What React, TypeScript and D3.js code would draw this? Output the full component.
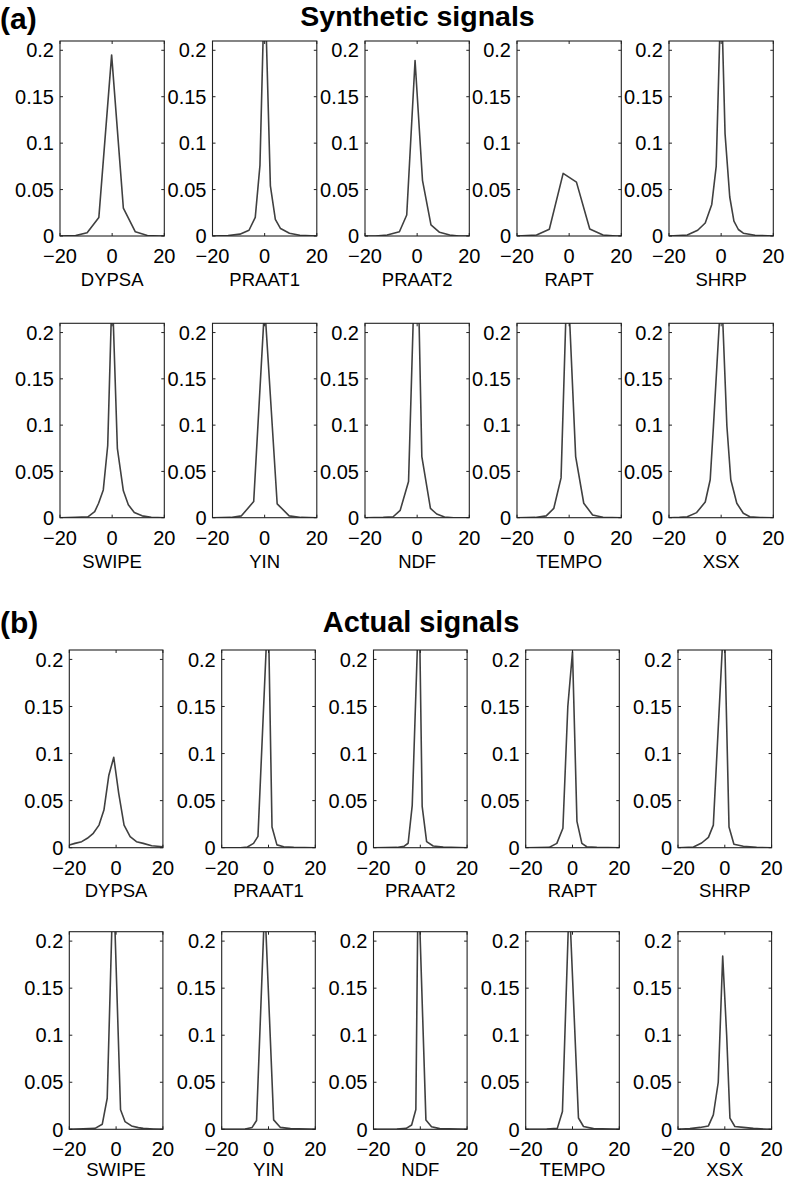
import React from "react";
import * as d3 from "d3";

type Pt = [number, number];

const METHODS = ["DYPSA", "PRAAT1", "PRAAT2", "RAPT", "SHRP", "SWIPE", "YIN", "NDF", "TEMPO", "XSX"];
const Y_TICKS = [0, 0.05, 0.1, 0.15, 0.2];
const X_TICKS = [-20, 0, 20];
const X_DOMAIN: [number, number] = [-20, 20];
const Y_DOMAIN: [number, number] = [0, 0.21];

// Synthetic signals
const synDYPSA: Pt[] = [[-20, 0], [-14, 0.0005], [-9.6, 0.0035], [-5.1, 0.02], [-0.2, 0.195], [4.3, 0.03], [8.9, 0.0045], [13.5, 0.0006], [18, 0], [20, 0]];
const synPRAAT1: Pt[] = [[-20, 0], [-14, 0.0005], [-9.5, 0.002], [-6, 0.0062], [-3.6, 0.02], [-1.8, 0.076], [0, 0.28], [2.2, 0.054], [4.1, 0.018], [6.1, 0.008], [9.5, 0.003], [13.5, 0.0008], [20, 0]];
const synPRAAT2: Pt[] = [[-20, 0], [-16, 0], [-11.5, 0.001], [-6.8, 0.0046], [-4, 0.0226], [-0.8, 0.189], [2.05, 0.06], [5.3, 0.012], [8.6, 0.004], [12.5, 0.001], [16, 0], [20, 0]];
const synRAPT: Pt[] = [[-20, 0], [-12.5, 0.001], [-7.6, 0.0072], [-2.3, 0.0674], [2.8, 0.058], [7.9, 0.0075], [13, 0.001], [18, 0], [20, 0]];
const synSHRP: Pt[] = [[-20, 0], [-13, 0.001], [-9, 0.0062], [-6.1, 0.014], [-3.6, 0.034], [-1.9, 0.075], [0, 0.27], [1.5, 0.11], [3.3, 0.042], [4.9, 0.016], [6.6, 0.007], [8.5, 0.003], [13, 0.0008], [20, 0]];
const synSWIPE: Pt[] = [[-20, 0], [-14, 0.0005], [-9.3, 0.001], [-6.7, 0.0065], [-5.2, 0.0156], [-3.4, 0.03], [-1.7, 0.078], [0, 0.25], [2, 0.075], [4.3, 0.029], [6.2, 0.014], [8.5, 0.0055], [11.5, 0.002], [15, 0.0005], [20, 0]];
const synYIN: Pt[] = [[-20, 0], [-13, 0.0003], [-8.9, 0.002], [-4.2, 0.0174], [0, 0.23], [4.8, 0.015], [9.4, 0.002], [14, 0.0003], [20, 0]];
const synNDF: Pt[] = [[-20, 0], [-13, 0.0003], [-9.2, 0.001], [-6.5, 0.008], [-3.3, 0.039], [-0.2, 0.34], [1.8, 0.066], [5.1, 0.01], [7.5, 0.004], [10.5, 0.0008], [14, 0], [20, 0]];
const synTEMPO: Pt[] = [[-20, 0], [-13, 0.0003], [-8.8, 0.002], [-5.9, 0.01], [-3.1, 0.043], [-0.7, 0.27], [2.5, 0.066], [5.6, 0.0156], [9, 0.003], [13, 0.0005], [20, 0]];
const synXSX: Pt[] = [[-20, 0], [-16, 0.0003], [-13, 0.001], [-9.4, 0.0055], [-6.1, 0.017], [-4.2, 0.041], [-2.95, 0.099], [0.1, 0.25], [2.2, 0.099], [3.7, 0.041], [6, 0.0156], [8.5, 0.0048], [11, 0.001], [15, 0.0002], [20, 0]];

// Actual signals
const actDYPSA: Pt[] = [[-20, 0.0028], [-17.6, 0.0046], [-14.7, 0.0064], [-12.3, 0.01], [-9.75, 0.0153], [-7.3, 0.024], [-5.2, 0.04], [-3.1, 0.077], [-1, 0.096], [1.1, 0.058], [3.4, 0.024], [6, 0.0117], [8.7, 0.0064], [11.6, 0.0046], [15.2, 0.002], [20, 0.001]];
const actPRAAT1: Pt[] = [[-20, 0], [-12, 0], [-9, 0.0008], [-6.4, 0.0046], [-4.5, 0.012], [-0.15, 0.26], [1.5, 0.022], [3.6, 0.003], [6.5, 0.001], [10.8, 0.0004], [20, 0]];
const actPRAAT2: Pt[] = [[-20, 0], [-10, 0.0003], [-7, 0.0015], [-5.2, 0.0047], [-3.45, 0.045], [-0.5, 0.27], [0.8, 0.044], [2.7, 0.0064], [5.5, 0.0018], [9.8, 0.0006], [20, 0]];
const actRAPT: Pt[] = [[-20, 0], [-10, 0.0003], [-6.7, 0.0046], [-4.1, 0.0206], [-2, 0.15], [0, 0.208], [1.9, 0.028], [4, 0.0046], [6.1, 0.001], [10.4, 0.0003], [20, 0]];
const actSHRP: Pt[] = [[-20, 0], [-13.4, 0.0007], [-9.9, 0.005], [-7, 0.011], [-4.9, 0.024], [-0.3, 0.25], [1.8, 0.022], [3.9, 0.0036], [7.9, 0.0015], [13.6, 0.0003], [20, 0]];
const actSWIPE: Pt[] = [[-20, 0], [-14, 0.0005], [-9, 0.001], [-5.9, 0.0054], [-3.8, 0.033], [-1.2, 0.27], [1.9, 0.0207], [3.8, 0.0082], [6.6, 0.0036], [9.5, 0.0018], [11.6, 0.001], [15.9, 0.0004], [20, 0]];
const actYIN: Pt[] = [[-20, 0], [-10, 0.0003], [-7, 0.002], [-5.1, 0.0093], [-1.6, 0.241], [2.2, 0.01], [5.1, 0.002], [9.4, 0.0007], [20, 0]];
const actNDF: Pt[] = [[-20, 0], [-10, 0.0003], [-6, 0.001], [-3.7, 0.0046], [-1.9, 0.021], [-0.9, 0.27], [2.4, 0.01], [4.8, 0.0028], [8.3, 0.0007], [20, 0]];
const actTEMPO: Pt[] = [[-20, 0], [-11, 0.0003], [-6.5, 0.001], [-4.3, 0.019], [-1.4, 0.245], [2.55, 0.012], [4.7, 0.003], [9, 0.0007], [20, 0]];
const actXSX: Pt[] = [[-20, 0], [-14.9, 0.0007], [-10.6, 0.002], [-7, 0.0036], [-4.9, 0.0154], [-2.8, 0.05], [-0.9, 0.184], [0.8, 0.1], [2.2, 0.0118], [4.3, 0.003], [7.9, 0.002], [12.2, 0.001], [18, 0], [20, 0]];

const SYN_SERIES = [synDYPSA, synPRAAT1, synPRAAT2, synRAPT, synSHRP, synSWIPE, synYIN, synNDF, synTEMPO, synXSX];
const ACT_SERIES = [actDYPSA, actPRAAT1, actPRAAT2, actRAPT, actSHRP, actSWIPE, actYIN, actNDF, actTEMPO, actXSX];

const FONT = "'Liberation Sans', Arial, Helvetica, sans-serif";

const fmtX = (v: number) => (v < 0 ? "\u2212" + Math.abs(v) : String(v));
const fmtY = (v: number) => String(+v.toFixed(2));

interface PanelProps {
  id: string;
  left: number;
  top: number;
  width: number;
  height: number;
  data: Pt[];
  label: string;
  labelOffset: number;
}

function Panel({ id, left, top, width, height, data, label, labelOffset }: PanelProps) {
  const x = d3.scaleLinear().domain(X_DOMAIN).range([left, left + width]);
  const y = d3.scaleLinear().domain(Y_DOMAIN).range([top + height, top]);
  const line = d3.line<Pt>().x((d) => x(d[0])).y((d) => y(d[1]));
  const bottom = top + height;
  const right = left + width;
  const tl = 3;
  return (
    <g>
      <defs>
        <clipPath id={id}>
          <rect x={left} y={top} width={width} height={height} />
        </clipPath>
      </defs>
      <path d={line(data) || ""} fill="none" stroke="#404040" strokeWidth={1.6} strokeLinejoin="round" clipPath={`url(#${id})`} />
      <rect x={left} y={top} width={width} height={height} fill="none" stroke="#222" strokeWidth={1.1} />
      {Y_TICKS.map((t) => (
        <g key={"y" + t}>
          <line x1={left} x2={left + tl} y1={y(t)} y2={y(t)} stroke="#222" />
          <line x1={right} x2={right - tl} y1={y(t)} y2={y(t)} stroke="#222" />
          <text x={left - 6} y={y(t)} dy="0.36em" textAnchor="end" fontSize={20} fontFamily={FONT} fill="#000">
            {fmtY(t)}
          </text>
        </g>
      ))}
      {X_TICKS.map((t) => (
        <g key={"x" + t}>
          <line x1={x(t)} x2={x(t)} y1={bottom} y2={bottom - tl} stroke="#222" />
          <line x1={x(t)} x2={x(t)} y1={top} y2={top + tl} stroke="#222" />
          <text x={x(t)} y={bottom + 27} textAnchor="middle" fontSize={20} fontFamily={FONT} fill="#000">
            {fmtX(t)}
          </text>
        </g>
      ))}
      <text x={(left + right) / 2} y={bottom + labelOffset} textAnchor="middle" fontSize={18.5} fontFamily={FONT} fill="#000">
        {label}
      </text>
    </g>
  );
}

const SEC_A_LEFTS = [60, 212.5, 365, 517, 669];
const SEC_B_LEFTS = [69.3, 221.7, 373.5, 525.7, 678];

export default function App() {
  const panels: JSX.Element[] = [];
  const rowsA = [{ top: 41, h: 195 }, { top: 323.3, h: 194.4 }];
  const rowsB = [{ top: 650, h: 197.7 }, { top: 931.7, h: 197.6 }];
  METHODS.forEach((m, i) => {
    const r = Math.floor(i / 5);
    const c = i % 5;
    panels.push(
      <Panel key={"a" + i} id={"ca" + i} left={SEC_A_LEFTS[c]} top={rowsA[r].top} width={104.3} height={rowsA[r].h} data={SYN_SERIES[i]} label={m} labelOffset={50} />
    );
    panels.push(
      <Panel key={"b" + i} id={"cb" + i} left={SEC_B_LEFTS[c]} top={rowsB[r].top} width={93.6} height={rowsB[r].h} data={ACT_SERIES[i]} label={m} labelOffset={r === 1 ? 46.5 : 49} />
    );
  });
  return (
    <svg width={786} height={1181} style={{ position: "absolute", left: 0, top: 0, background: "#fff" }}>
      <rect x={0} y={0} width={786} height={1181} fill="#fff" />
      <text x={0} y={29} fontSize={30} fontWeight="bold" fontFamily={FONT}>(a)</text>
      <text x={417.5} y={25.5} textAnchor="middle" fontSize={28.5} fontWeight="bold" fontFamily={FONT}>Synthetic signals</text>
      <text x={0} y={633} fontSize={30} fontWeight="bold" fontFamily={FONT}>(b)</text>
      <text x={421} y={632} textAnchor="middle" fontSize={29} fontWeight="bold" fontFamily={FONT}>Actual signals</text>
      {panels}
    </svg>
  );
}
